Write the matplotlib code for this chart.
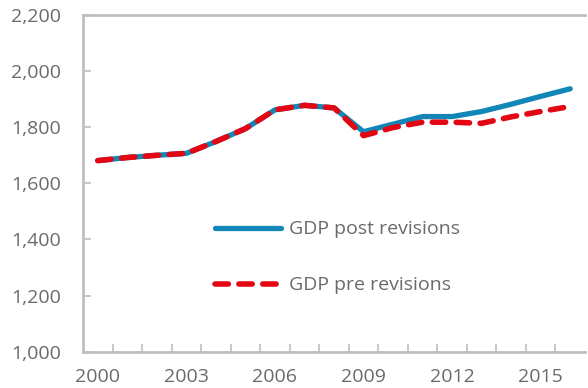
import matplotlib
matplotlib.use("Agg")
import matplotlib.pyplot as plt
from matplotlib.ticker import FixedLocator, FuncFormatter

plt.rcParams['font.family'] = ['Open Sans', 'DejaVu Sans']

years = list(range(2000, 2017))
gdp_post = [1681, 1692, 1700, 1707, 1749, 1795, 1862, 1878, 1869, 1784, 1811,
            1838, 1838, 1856, 1882, 1910, 1937]
gdp_pre = [1681, 1692, 1700, 1707, 1749, 1795, 1862, 1878, 1869, 1770, 1799,
           1818, 1818, 1814, 1837, 1856, 1874]
series_labels = ["GDP post revisions", "GDP pre revisions"]
unit_label = "(EUR billion)"

blue = "#1186B7"
red = "#E30613"
grey_axis = "#BFBFBF"
grey_text = "#6A6A6A"

fig = plt.figure(figsize=(5.88, 3.88), dpi=100)
ax = fig.add_axes([83 / 588, 1 - 351.7 / 388, 502 / 588, 336.7 / 388])

x = list(range(len(years)))
ax.plot(x, gdp_post, color=blue, lw=3.8, solid_capstyle='round',
        solid_joinstyle='round', label=series_labels[0], zorder=3)
ax.plot(x, gdp_pre, color=red, lw=4.0, dashes=(2.4, 1.9),
        dash_capstyle='round', label=series_labels[1], zorder=4)

ax.set_xlim(-0.5, len(years) - 0.5)
ax.set_ylim(1000, 2200)

# category axis: labels every third year, tick marks between categories
ax.xaxis.set_major_locator(FixedLocator(x[::3]))
ax.set_xticklabels([str(y) for y in years[::3]])
ax.xaxis.set_minor_locator(FixedLocator([i + 0.5 for i in x[:-1]]))
ax.tick_params(axis='x', which='major', length=0, pad=11.5,
               labelsize=14, labelcolor=grey_text)
ax.tick_params(axis='x', which='minor', direction='in', length=6,
               width=1.2, color=grey_axis)

ax.set_yticks(range(1000, 2201, 200))
ax.yaxis.set_major_formatter(FuncFormatter(lambda v, p: f"{int(v):,}"))
ax.tick_params(axis='y', direction='in', length=6, width=1.2,
               color=grey_axis, pad=16, labelsize=14, labelcolor=grey_text)

for side in ['left', 'bottom', 'top']:
    ax.spines[side].set_color(grey_axis)
    ax.spines[side].set_linewidth(2)
ax.spines['right'].set_visible(False)

leg = ax.legend(loc='center left', bbox_to_anchor=(132 / 502, 0.28),
                frameon=False, fontsize=14, handlelength=3.4,
                handletextpad=0.4, labelspacing=1.95, borderpad=0,
                borderaxespad=0)
for t in leg.get_texts():
    t.set_color(grey_text)

fig.text(0.0, 1.0 + 2.5 / 388, unit_label, color="#1A9BD7", fontsize=14,
         ha='left', va='baseline')

fig.savefig("out.png", dpi=100)
